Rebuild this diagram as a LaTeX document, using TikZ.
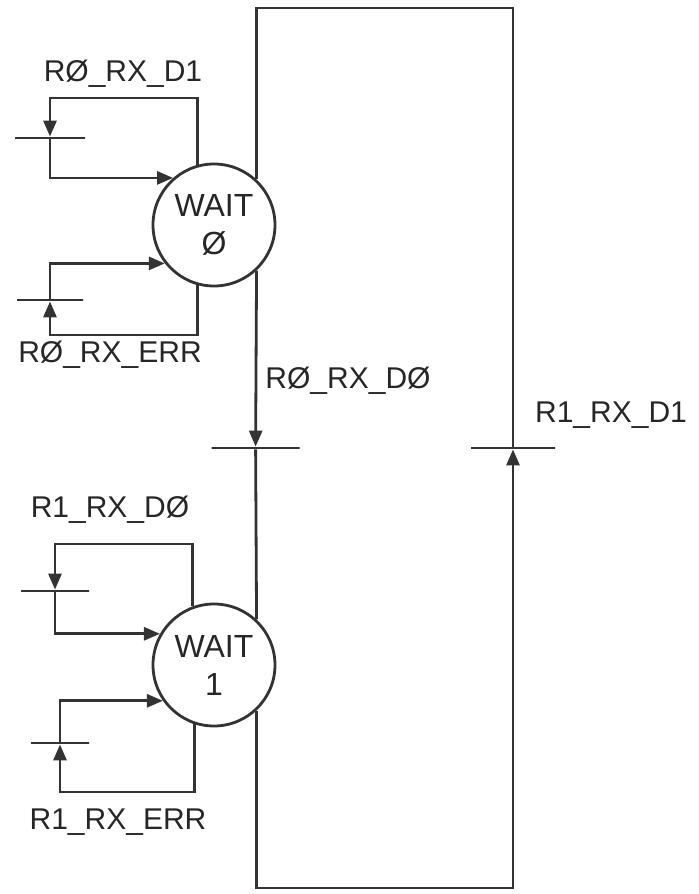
\documentclass[tikz,border=0pt]{standalone}
\usepackage{fontspec}
\setmainfont{Liberation Sans}
\usetikzlibrary{arrows.meta}
\definecolor{inkline}{HTML}{333333}
\definecolor{inktext}{HTML}{262626}

\begin{document}
\begin{tikzpicture}[x=0.5pt, y=-0.5pt, line width=1.4pt, color=inkline,
    place/.style={circle, draw, fill=white, minimum size=61pt, inner sep=0pt,
      align=center, font=\fontsize{16}{19}\selectfont, text=inktext},
    tbar/.style={draw, rectangle, minimum width=#1, minimum height=0pt, inner sep=0pt},
    arc/.style={-{Triangle[length=8pt, width=6.5pt]}},
    lbl/.style={font=\fontsize{15}{18}\selectfont, text=inktext}]
    \useasboundingbox (0,0) rectangle (699,894);
    % places
    \node[place] (w0) at (214,225) {WAIT\\Ø};
    \node[place] (w1) at (214,665) {WAIT\\1};
    % transitions
    \node[tbar=35pt] (t0a) at (50,138) {};
    \node[tbar=33pt] (t0b) at (50,300) {};
    \node[tbar=44pt] (tL) at (255.6,448) {};
    \node[tbar=42pt] (tR) at (513,448) {};
    \node[tbar=34pt] (t1a) at (55,591) {};
    \node[tbar=29pt] (t1b) at (60,743) {};
    % labels
    \node[lbl] (l0a) at (123,74) {RØ\_RX\_D1};
    \node[lbl] (l0b) at (110,355) {RØ\_RX\_ERR};
    \node[lbl] (lL) at (348,381) {RØ\_RX\_DØ};
    \node[lbl] (lR) at (611,415) {R1\_RX\_D1};
    \node[lbl] (l1a) at (110,510) {R1\_RX\_DØ};
    \node[lbl] (l1b) at (118,822) {R1\_RX\_ERR};
    % corners
    \coordinate (k0a) at (50,98);
    \coordinate (k0b) at (50,335);
    \coordinate (k1a) at (55,544);
    \coordinate (k1b) at (60,792);
    \coordinate (ktr) at (513,8);
    \coordinate (kbr) at (513,888);
    % self loops
    \draw[arc] (w0.105) |- (k0a) -- (t0a);
    \draw[arc] (t0a) |- (w0.131);
    \draw[arc] (w0.255) |- (k0b) -- (t0b);
    \draw[arc] (t0b) |- (w0.218);
    \draw[arc] (w1.110) |- (k1a) -- (t1a);
    \draw[arc] (t1a) |- (w1.150);
    \draw[arc] (w1.252) |- (k1b) -- (t1b);
    \draw[arc] (t1b) |- (w1.215);
    % outer ring
    \draw[arc] (w0.313) -- (tL);
    \draw (tL) -- (w1.47);
    \draw[arc] (w1.313) |- (kbr) -- (tR);
    \draw (tR) -- (ktr) -| (w0.47);
\end{tikzpicture}
\end{document}
